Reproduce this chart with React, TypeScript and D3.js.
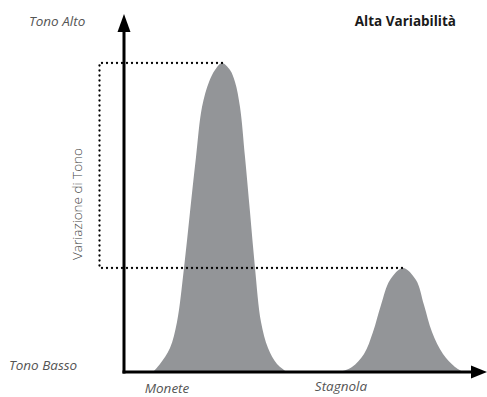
import React from "react";
import * as d3 from "d3";

// Abstract units: x = position along axis, y = tone level
const peakMonete: [number, number][] = [
  [29, 0], [36, 8], [46, 24], [53, 50], [60, 104], [66, 160], [72, 215],
  [78, 265], [85, 290], [91, 302], [98, 309], [106, 302], [111, 290], [116, 265],
  [121, 215], [126, 160], [131, 104], [137, 50], [144, 24], [153, 8], [163, 0],
];
const peakStagnola: [number, number][] = [
  [216, 0], [228, 5], [240, 18], [249, 40], [257, 67], [266, 92], [279, 104],
  [292, 92], [300, 67], [308, 40], [319, 18], [331, 5], [339, 0],
];
const guideX = -24.5;
const categories = ["Monete", "Stagnola"];
const categoryX = [43, 217];
const yLabels = ["Tono Basso", "Tono Alto"];
const title = "Alta Variabilità";
const yTitle = "Variazione di Tono";

const W = 487;
const H = 397;

export default function App() {
  const x = d3.scaleLinear().domain([0, 360]).range([124, 484]);
  const y = d3.scaleLinear().domain([0, 358]).range([372, 14]);

  const area = d3
    .area<[number, number]>()
    .x((d) => x(d[0]))
    .y0(y(0))
    .y1((d) => y(d[1]))
    .curve(d3.curveCatmullRom.alpha(0.5));

  const p1 = peakMonete.reduce((a, b) => (b[1] > a[1] ? b : a));
  const p2 = peakStagnola.reduce((a, b) => (b[1] > a[1] ? b : a));
  const guide = d3.path();
  guide.moveTo(x(p1[0]), y(p1[1]));
  guide.lineTo(x(guideX), y(p1[1]));
  guide.lineTo(x(guideX), y(p2[1]));
  guide.lineTo(x(p2[0]), y(p2[1]));

  const x0 = x(0);
  const y0 = y(0);
  const yTop = y(358);
  const xEnd = W;

  const italic = {
    fontFamily: "'Open Sans', 'Noto Sans', sans-serif",
    fontStyle: "italic" as const,
    fontWeight: 400,
    fontSize: 13.5,
    fill: "#555",
  };

  return (
    <svg
      width={W}
      height={H}
      style={{ position: "absolute", left: 0, top: 0, background: "#fff" }}
    >
      <path d={area(peakMonete) || ""} fill="#939598" />
      <path d={area(peakStagnola) || ""} fill="#939598" />
      <path
        d={guide.toString()}
        fill="none"
        stroke="#000"
        strokeWidth={2.3}
        strokeDasharray="0 5"
        strokeLinecap="round"
      />
      {/* axes */}
      <line x1={x0} y1={y0 + 1.5} x2={x0} y2={yTop + 14} stroke="#000" strokeWidth={3} />
      <polygon
        points={`${x0},${yTop} ${x0 - 6.5},${yTop + 18} ${x0 + 6.5},${yTop + 18}`}
        fill="#000"
      />
      <line x1={x0 - 1.5} y1={y0} x2={xEnd - 12} y2={y0} stroke="#000" strokeWidth={3} />
      <polygon
        points={`${xEnd},${y0} ${xEnd - 16},${y0 - 6.5} ${xEnd - 16},${y0 + 6.5}`}
        fill="#000"
      />
      {/* labels */}
      <text x={29} y={26} {...italic}>{yLabels[1]}</text>
      <text x={9} y={370} {...italic}>{yLabels[0]}</text>
      {categories.map((c, i) => (
        <text key={c} x={x(categoryX[i])} y={i === 0 ? 393 : 391} textAnchor="middle" {...italic}>
          {c}
        </text>
      ))}
      <text
        x={456}
        y={26}
        textAnchor="end"
        fontFamily="'Open Sans', 'Noto Sans', sans-serif"
        fontWeight={700}
        fontSize={13.5}
        fill="#1a1a1a"
      >
        {title}
      </text>
      <text
        transform={`translate(81.5,204) rotate(-90)`}
        textAnchor="middle"
        fontFamily="'Open Sans', 'Noto Sans', sans-serif"
        fontWeight={300}
        fontSize={13.5}
        fill="#444"
      >
        {yTitle}
      </text>
    </svg>
  );
}
